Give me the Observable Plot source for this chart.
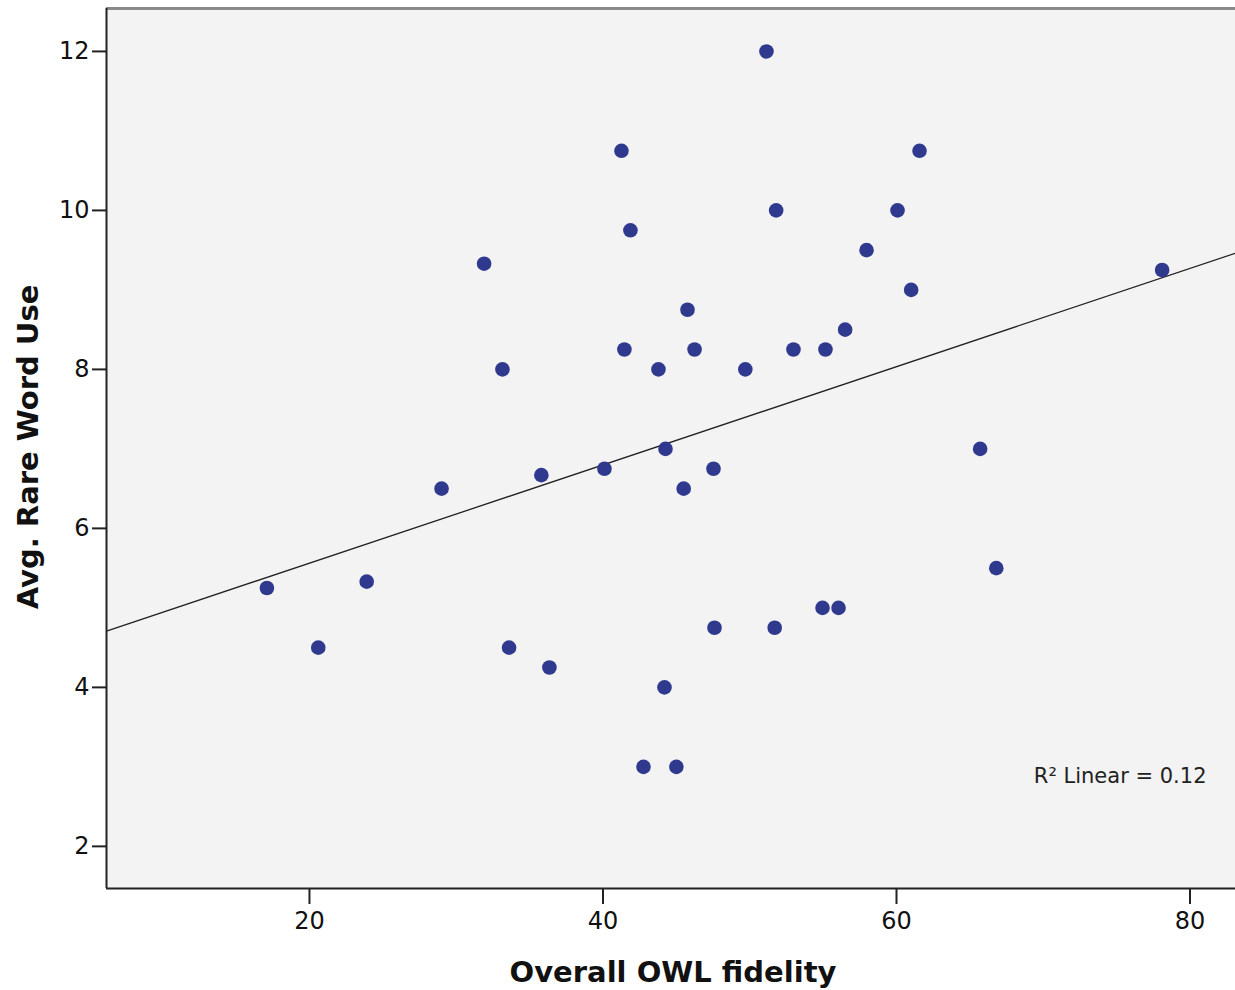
<!DOCTYPE html>
<html>
<head>
<meta charset="utf-8">
<script src="https://cdn.jsdelivr.net/npm/d3@7"></script>
<script src="https://cdn.jsdelivr.net/npm/@observablehq/plot@0.6"></script>
<style>
  html, body { margin: 0; padding: 0; background: #fff; }
  #chart svg { display: block; }
</style>
</head>
<body>
<div id="chart"></div>
<script>
const fidelity = [17.1, 20.6, 23.9, 29.0, 31.9, 33.15, 33.6, 35.8, 36.35, 40.1,
  41.26, 41.46, 41.87, 42.76, 43.78, 44.19, 44.26, 45.0, 45.5, 45.76,
  46.24, 47.53, 47.6, 49.7, 51.14, 51.7, 51.8, 52.98, 54.96, 55.16,
  56.05, 56.5, 57.96, 60.07, 61.0, 61.57, 65.7, 66.8, 78.1];
const rareWord = [5.25, 4.5, 5.33, 6.5, 9.33, 8.0, 4.5, 6.67, 4.25, 6.75,
  10.75, 8.25, 9.75, 3.0, 8.0, 4.0, 7.0, 3.0, 6.5, 8.75,
  8.25, 6.75, 4.75, 8.0, 12.0, 4.75, 10.0, 8.25, 5.0, 8.25,
  5.0, 8.5, 9.5, 10.0, 9.0, 10.75, 7.0, 5.5, 9.25];
const xTicks = [20, 40, 60, 80];
const yTicks = [2, 4, 6, 8, 10, 12];
const xDomain = [6.17, 83.1];
const yDomain = [1.47, 12.54];
const r2Label = "R\u00B2 Linear = 0.12";

const data = fidelity.map((x, i) => ({x, y: rareWord[i]}));

// least squares fit
const mx = d3.mean(fidelity), my = d3.mean(rareWord);
let sxy = 0, sxx = 0;
data.forEach(d => { sxy += (d.x - mx) * (d.y - my); sxx += (d.x - mx) ** 2; });
const slope = sxy / sxx, intercept = my - slope * mx;
const fitLine = xDomain.map(x => ({x, y: intercept + slope * x}));

const font = "'DejaVu Sans', Verdana, sans-serif";

const plot = Plot.plot({
  width: 1235,
  height: 990,
  marginLeft: 106,
  marginRight: 0,
  marginTop: 8,
  marginBottom: 102,
  style: {fontFamily: font, background: "#fff"},
  x: {domain: xDomain, ticks: xTicks},
  y: {domain: yDomain, ticks: yTicks},
  marks: [
    Plot.frame({fill: "#f3f3f3", stroke: null}),
    Plot.lineY(fitLine, {x: "x", y: "y", stroke: "#222", strokeWidth: 1.3, clip: true}),
    Plot.dot(data, {x: "x", y: "y", r: 7.3, fill: "#2f3a8f", stroke: null}),
    Plot.ruleY([yDomain[1]], {stroke: "#8a8a8a", strokeWidth: 3}),
    Plot.ruleX([xDomain[0]], {stroke: "#222", strokeWidth: 2}),
    Plot.ruleY([yDomain[0]], {stroke: "#222", strokeWidth: 2}),
    Plot.axisX({ticks: xTicks, tickSize: 16, tickPadding: 7, fontSize: 24, label: null, stroke: "#222", strokeWidth: 2, color: "#111"}),
    Plot.axisY({ticks: yTicks, tickSize: 14, tickPadding: 3, fontSize: 24, label: null, stroke: "#222", strokeWidth: 2, color: "#111"}),
    Plot.text([r2Label], {frameAnchor: "bottom-right", dx: -29, dy: -106, fontSize: 21, fill: "#222", textAnchor: "end"})
  ]
});

const svg = d3.select(plot);
svg.append("text")
  .attr("x", 673).attr("y", 982)
  .attr("text-anchor", "middle")
  .attr("font-size", 29).attr("font-weight", "bold")
  .attr("font-family", font).attr("fill", "#111")
  .text("Overall OWL fidelity");
svg.append("text")
  .attr("transform", "translate(38,447) rotate(-90)")
  .attr("text-anchor", "middle")
  .attr("font-size", 29).attr("font-weight", "bold")
  .attr("font-family", font).attr("fill", "#111")
  .text("Avg. Rare Word Use");

document.getElementById("chart").appendChild(plot);
</script>
</body>
</html>
